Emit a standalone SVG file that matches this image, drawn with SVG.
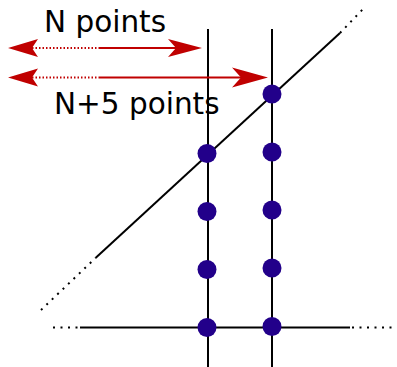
<svg xmlns="http://www.w3.org/2000/svg" width="397" height="367" viewBox="0 0 397 367">
<style>
.ln{stroke:#000;stroke-width:2;fill:none}
.dot{stroke:#000;stroke-width:2;fill:none;stroke-dasharray:2 5.5}
.rl{stroke:#c00000;stroke-width:2;fill:none}
.rd{stroke:#c00000;stroke-width:2;fill:none;stroke-dasharray:1.5 2}
.hd{fill:#c00000}
.pt{fill:#22008a}
.tx{font-family:"DejaVu Sans",sans-serif;font-size:29.5px;fill:#000}
</style>
<rect width="397" height="367" fill="#fff"/>
<g id="connectors">
<line class="ln" x1="208" y1="29" x2="208" y2="367"/>
<line class="ln" x1="272" y1="29" x2="272" y2="367"/>
<line class="ln" x1="80" y1="327.5" x2="350" y2="327.5"/>
<line class="dot" x1="53" y1="327.5" x2="80" y2="327.5"/>
<line class="dot" x1="352" y1="327.5" x2="397" y2="327.5"/>
<line class="ln" x1="95.5" y1="258" x2="340" y2="33"/>
<line class="dot" x1="41" y1="310" x2="95.5" y2="258"/>
<line class="dot" x1="340" y1="33" x2="364" y2="8"/>
<line class="rd" x1="32" y1="48" x2="100" y2="48"/>
<line class="rl" x1="100" y1="48" x2="178" y2="48"/>
<polygon class="hd" points="8,48 38,39 32,48 38,57"/>
<polygon class="hd" points="202,48 168,39 176,48 168,57"/>
<line class="rd" x1="32" y1="77.5" x2="100" y2="77.5"/>
<line class="rl" x1="100" y1="77.5" x2="243" y2="77.5"/>
<polygon class="hd" points="8,77.5 38,68.5 32,77.5 38,86.5"/>
<polygon class="hd" points="268,77.5 232,67.5 241,77.5 232,87.5"/>
</g>
<g id="p1"><circle class="pt" cx="207" cy="153.5" r="9.5"/></g>
<g id="p2"><circle class="pt" cx="207" cy="211.5" r="9.5"/></g>
<g id="p3"><circle class="pt" cx="207" cy="269.5" r="9.5"/></g>
<g id="p4"><circle class="pt" cx="207" cy="327.5" r="9.5"/></g>
<g id="q1"><circle class="pt" cx="272" cy="94" r="9.5"/></g>
<g id="q2"><circle class="pt" cx="272" cy="152" r="9.5"/></g>
<g id="q3"><circle class="pt" cx="272" cy="210" r="9.5"/></g>
<g id="q4"><circle class="pt" cx="272" cy="268" r="9.5"/></g>
<g id="q5"><circle class="pt" cx="272" cy="326.5" r="9.5"/></g>
<g id="label-n"><text class="tx" x="44" y="32">N points</text></g>
<g id="label-n5"><text class="tx" x="54" y="114">N+5 points</text></g>
</svg>
